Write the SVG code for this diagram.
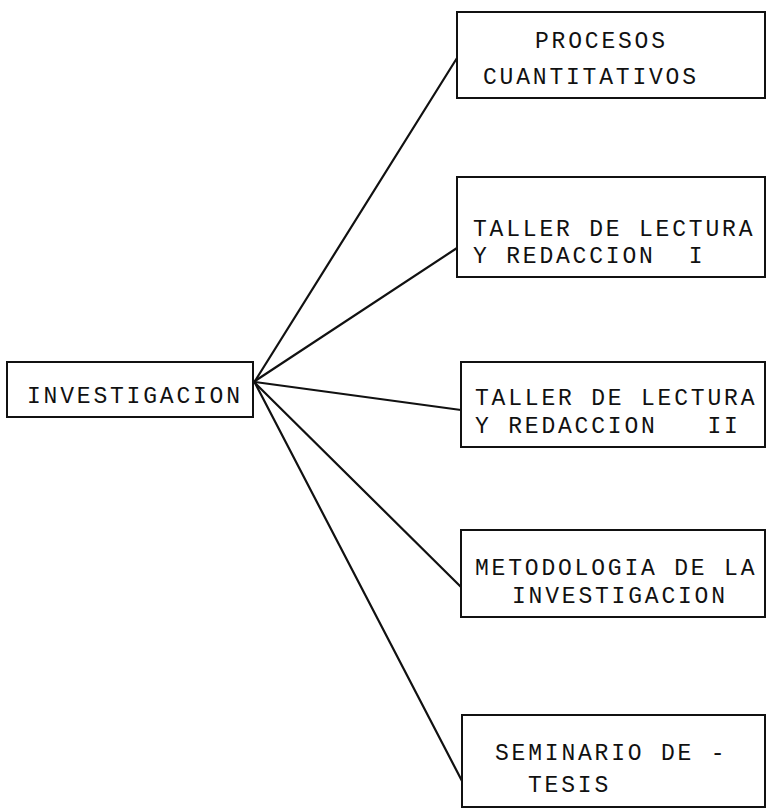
<svg xmlns="http://www.w3.org/2000/svg" width="768" height="809" viewBox="0 0 768 809">
<style>
.box{fill:#fff;stroke:#111;stroke-width:2}
.t{font-family:"Liberation Mono","DejaVu Sans Mono",monospace;font-size:23px;fill:#111;letter-spacing:2.8px;white-space:pre}
.c{stroke:#111;stroke-width:2.2;fill:none;stroke-linecap:round}
</style>
<rect width="768" height="809" fill="#fff"/>
<g id="connectors">
<line class="c" x1="255" y1="381" x2="457" y2="58"/>
<line class="c" x1="255" y1="381" x2="457" y2="248"/>
<line class="c" x1="255" y1="382" x2="461" y2="410"/>
<line class="c" x1="255" y1="383" x2="461" y2="587"/>
<line class="c" x1="255" y1="383" x2="462" y2="781"/>
</g>
<g id="investigacion">
<rect class="box" x="7" y="362" width="246" height="55"/>
<text class="t" x="27" y="403">INVESTIGACION</text>
</g>
<g id="procesos">
<rect class="box" x="457" y="12" width="308" height="86"/>
<text class="t" x="535" y="48">PROCESOS</text>
<text class="t" x="483" y="84">CUANTITATIVOS</text>
</g>
<g id="taller1">
<rect class="box" x="457" y="177" width="308" height="100"/>
<text class="t" x="473" y="236">TALLER DE LECTURA</text>
<text class="t" x="473" y="263" xml:space="preserve">Y REDACCION  I</text>
</g>
<g id="taller2">
<rect class="box" x="461" y="362" width="304" height="85"/>
<text class="t" x="475" y="405">TALLER DE LECTURA</text>
<text class="t" x="475" y="433" xml:space="preserve">Y REDACCION   II</text>
</g>
<g id="metodologia">
<rect class="box" x="461" y="530" width="304" height="87"/>
<text class="t" x="475" y="575">METODOLOGIA DE LA</text>
<text class="t" x="512" y="603">INVESTIGACION</text>
</g>
<g id="seminario">
<rect class="box" x="462" y="715" width="303" height="92"/>
<text class="t" x="495" y="760">SEMINARIO DE -</text>
<text class="t" x="528" y="792">TESIS</text>
</g>
</svg>
